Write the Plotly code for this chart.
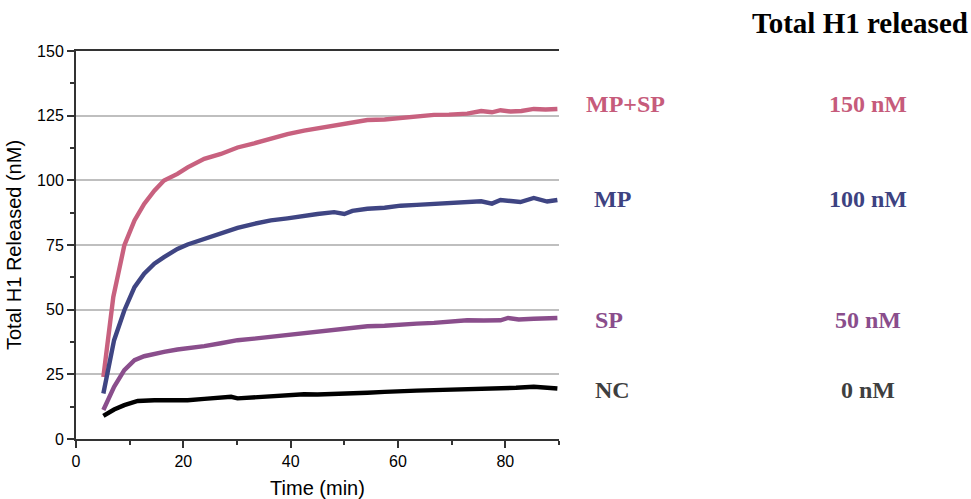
import plotly.graph_objects as go

# ---- data ----
t_mpsp = [5.1, 6.95, 9.0, 10.9, 12.7, 14.6, 16.4, 18.9, 20.8, 23.9, 27.0, 30.1, 33.2, 36.3, 39.4, 42.5,
          45.0, 48.1, 51.0, 54.3, 57.5, 60.5, 63.5, 66.7, 69.5, 72.9, 75.5, 77.5, 79.1, 81.0, 83.0, 85.3, 87.5, 89.7]
v_mpsp = [24.0, 54.9, 74.8, 84.5, 90.9, 96.0, 99.9, 102.5, 105.0, 108.3, 110.2, 112.7, 114.3, 116.3, 117.9, 119.2,
          120.0, 121.1, 122.0, 123.3, 123.5, 124.1, 124.8, 125.3, 125.4, 125.8, 126.8, 126.3, 127.1, 126.6, 126.8, 127.6, 127.4, 127.6]

t_mp = [5.1, 7.1, 9.0, 10.9, 12.7, 14.6, 16.4, 18.9, 20.8, 23.9, 27.0, 30.1, 33.2, 36.3, 39.4, 42.5,
        45.0, 48.1, 50.0, 51.5, 54.3, 57.5, 60.5, 63.5, 66.7, 69.5, 72.9, 75.5, 77.5, 79.1, 81.0, 82.8, 85.3, 87.8, 89.7]
v_mp = [17.6, 38.2, 49.7, 58.7, 63.9, 67.8, 70.3, 73.5, 75.2, 77.4, 79.6, 81.6, 83.2, 84.5, 85.3, 86.4,
        87.0, 87.7, 87.0, 88.2, 89.0, 89.4, 90.2, 90.5, 90.9, 91.1, 91.5, 91.9, 91.0, 92.4, 92.0, 91.6, 93.2, 91.8, 92.4]

t_sp = [5.1, 7.1, 9.0, 10.9, 12.7, 14.6, 16.4, 18.9, 21.0, 23.9, 27.0, 30.1, 33.2, 36.3, 39.4, 42.5,
        45.0, 48.1, 51.0, 54.3, 57.5, 60.5, 63.5, 66.7, 69.5, 72.9, 76.0, 79.1, 80.5, 82.5, 85.3, 87.5, 89.7]
v_sp = [11.2, 20.2, 26.6, 30.5, 32.0, 33.0, 33.7, 34.6, 35.0, 35.9, 37.0, 38.2, 38.8, 39.5, 40.2, 40.8,
        41.3, 42.3, 42.8, 43.6, 43.8, 44.3, 44.6, 44.9, 45.2, 45.9, 45.8, 45.9, 46.8, 46.2, 46.5, 46.6, 46.8]

t_nc = [5.1, 7.1, 9.0, 11.5, 14.6, 17.7, 20.8, 23.9, 27.0, 28.9, 30.1, 33.2, 36.3, 39.4, 42.5,
        45.0, 48.1, 51.0, 54.3, 57.5, 60.5, 63.5, 66.7, 69.5, 72.9, 76.0, 79.1, 82.0, 85.3, 87.5, 89.7]
v_nc = [8.9, 11.4, 13.1, 14.7, 15.0, 15.0, 15.0, 15.5, 15.8, 16.3, 15.7, 16.2, 16.6, 16.8, 17.3,
        17.2, 17.3, 17.6, 17.9, 18.2, 18.6, 18.7, 18.9, 19.0, 19.1, 19.3, 19.5, 19.8, 20.2, 19.9, 19.5]

series_names = ["MP+SP", "MP", "SP", "NC"]
series_totals = ["150 nM", "100 nM", "50 nM", "0 nM"]
label_levels = [129.6, 92.9, 45.9, 18.9]

line_colors = ["#C8617F", "#3F4583", "#8A4E8C", "#000000"]
text_colors = ["#C65B7B", "#3D4281", "#8A4D8C", "#3F3F3F"]
label_x = [1.137, 1.111, 1.103, 1.111]

fig = go.Figure()
for t, v, c, n in zip([t_mpsp, t_mp, t_sp, t_nc], [v_mpsp, v_mp, v_sp, v_nc], line_colors, series_names):
    fig.add_trace(go.Scatter(x=t, y=v, mode="lines", name=n,
                             line=dict(color=c, width=4.4), showlegend=False))

serif = "Liberation Serif, Times New Roman, serif"
for n, tot, lv, tc, lx in zip(series_names, series_totals, label_levels, text_colors, label_x):
    fig.add_annotation(x=lx, xref="paper", y=lv, yref="y", text=f"<b>{n}</b>", showarrow=False,
                       font=dict(family=serif, size=24, color=tc), xanchor="center", yanchor="middle")
    fig.add_annotation(x=1.639, xref="paper", y=lv, yref="y", text=f"<b>{tot}</b>", showarrow=False,
                       font=dict(family=serif, size=24, color=tc), xanchor="center", yanchor="middle")

fig.add_annotation(x=1.623, xref="paper", y=1.072, yref="paper", text="<b>Total H1 released</b>",
                   showarrow=False, font=dict(family=serif, size=29, color="#000000"),
                   xanchor="center", yanchor="middle")

axis_font = "Liberation Sans, Arial, sans-serif"
fig.update_layout(
    width=971, height=499,
    margin=dict(l=76, r=412, t=51, b=60),
    paper_bgcolor="white", plot_bgcolor="white",
    font=dict(family=axis_font, size=16, color="#000000"),
    xaxis=dict(range=[0, 90], tickvals=[0, 20, 40, 60, 80], ticks="outside", ticklen=7, tickwidth=1.5,
               tickcolor="#333333", showline=True, linecolor="#333333", linewidth=2, mirror=True,
               showgrid=False, zeroline=False, automargin=False,
               minor=dict(tickvals=[10, 30, 50, 70, 90], ticks="outside", ticklen=4, tickcolor="#333333"),
               title=dict(text="Time (min)", font=dict(size=20), standoff=12),
               tickfont=dict(size=16)),
    yaxis=dict(range=[0, 150], tickvals=[0, 25, 50, 75, 100, 125, 150], ticks="outside", ticklen=7,
               tickwidth=1.5, tickcolor="#333333", showline=True, linecolor="#333333", linewidth=2,
               showgrid=True, gridcolor="#BFBFBF", gridwidth=1.6, zeroline=False, automargin=False,
               minor=dict(tickvals=[12.5, 37.5, 62.5, 87.5, 112.5, 137.5], ticks="outside", ticklen=4,
                          tickcolor="#333333"),
               title=dict(text="Total H1 Released (nM)", font=dict(size=20), standoff=10),
               tickfont=dict(size=16)),
)

fig.write_html("out.html")
